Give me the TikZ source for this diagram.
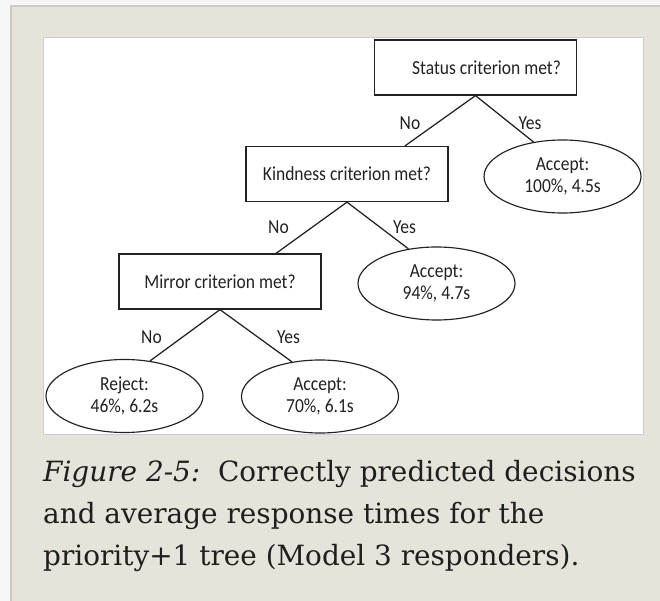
\documentclass[tikz,border=0pt]{standalone}
\usepackage{fontspec}
\setmainfont{DejaVu Serif}
\newfontfamily\diagfont[FakeStretch=0.88]{Carlito}
\usetikzlibrary{calc}
\usetikzlibrary{shapes.geometric}

\definecolor{pagegray}{HTML}{E5E3DA}
\definecolor{rimgray}{HTML}{CBCBCB}
\definecolor{inkgray}{HTML}{222222}

\tikzset{
	question/.style={draw=inkgray, line width=1.25pt, minimum width=202pt, minimum height=55pt,
		inner sep=0pt, text=inkgray, font=\diagfont\fontsize{19.9}{22}\selectfont},
	outcome/.style={ellipse, draw=inkgray, line width=1.15pt, minimum width=157pt, minimum height=73pt,
		inner sep=0pt, align=center, text=inkgray, font=\diagfont\fontsize{19.9}{22}\selectfont},
	answer/.style={inner sep=0pt, text=inkgray, font=\diagfont\fontsize{19.9}{22}\selectfont},
	branch/.style={draw=inkgray, line width=1.25pt},
	captext/.style={anchor=base west, inner sep=0pt, text=black!88, font=\fontsize{27.9}{42}\selectfont}
}

\begin{document}
\begin{tikzpicture}[x=1pt, y=-1pt]

	\useasboundingbox (0, 0) rectangle (660, 601);
	\fill[white!97!black] (0, 0) rectangle (660, 601);
	\draw[rimgray, fill=pagegray, line width=1.5pt] (11, 6) rectangle (664, 606);
	\draw[rimgray, fill=white, line width=1pt] (43.5, 37.5) rectangle (643.5, 434.5);

	% questions
	\node[question] (status) at (475.5, 67.5) {\hspace*{22pt}Status criterion met?};
	\node[question] (kind) at (347, 174) {Kindness criterion met?};
	\node[question] (mirror) at (220, 281.5) {Mirror criterion met?};

	% outcomes
	\node[outcome] (acc1) at (562.5, 176.5) {Accept:\\100\%, 4.5s};
	\node[outcome] (acc2) at (436.5, 283.5) {Accept:\\94\%, 4.7s};
	\node[outcome] (rej) at (124.5, 396) {Reject:\\46\%, 6.2s};
	\node[outcome] (acc3) at (320, 396.5) {Accept:\\70\%, 6.1s};

	% branches
	\draw[branch] (status.south)--([xshift=58pt]kind.north);
	\draw[branch] (status.south)--(acc1.130);
	\draw[branch] (kind.south)--([xshift=56pt]mirror.north);
	\draw[branch] (kind.south)--(acc2.129);
	\draw[branch] (mirror.south)--(rej.54);
	\draw[branch] (mirror.south)--(acc3.129);

	\node[answer] (no1) at ($(status.south)+(-65.5, 28)$) {No};
	\node[answer] (yes1) at ($(status.south)+(54.5, 28)$) {Yes};
	\node[answer] (no2) at ($(kind.south)+(-68.5, 25)$) {No};
	\node[answer] (yes2) at ($(kind.south)+(57.5, 25)$) {Yes};
	\node[answer] (no3) at ($(mirror.south)+(-68.5, 28)$) {No};
	\node[answer] (yes3) at ($(mirror.south)+(68.5, 28)$) {Yes};

	% caption
	\node[captext] (cap1) at (43, 481) {\textit{Figure 2-5:}\ \ Correctly predicted decisions};
	\node[captext] (cap2) at (43, 523) {and average response times for the};
	\node[captext] (cap3) at (43, 565) {priority+1 tree (Model 3 responders).};

\end{tikzpicture}
\end{document}
